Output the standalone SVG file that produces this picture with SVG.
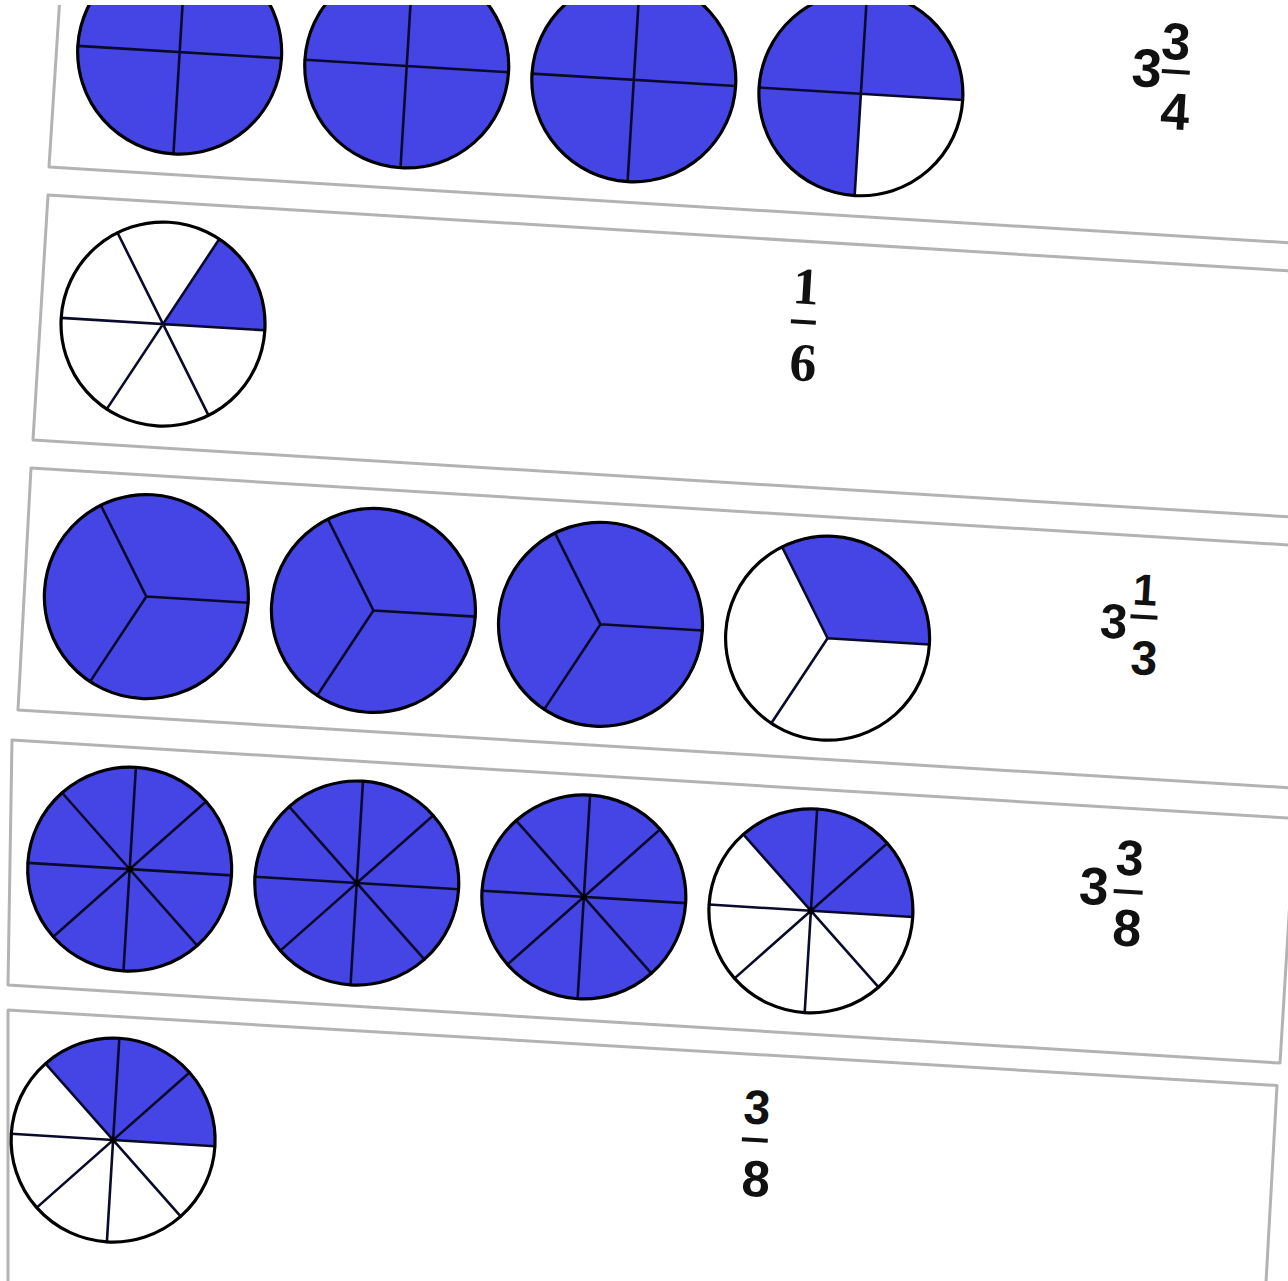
<svg xmlns="http://www.w3.org/2000/svg" xmlns:xlink="http://www.w3.org/1999/xlink" width="1288" height="1281" viewBox="0 0 1288 1281">
<style>
.strip{fill:#fff;stroke:#b3b3b3;stroke-width:3;stroke-linejoin:round}
.blue{fill:#4545e6}
.white{fill:#fff}
.rim{fill:none;stroke:#000;stroke-width:3.2}
.div{fill:none;stroke:#0a0a2a;stroke-width:2.6;stroke-linecap:round}
.sans{font-family:"Liberation Sans","DejaVu Sans",Arial,sans-serif;font-weight:bold;fill:#111;text-anchor:middle}
.serif{font-family:"Liberation Serif","DejaVu Serif",serif;font-weight:bold;fill:#111;text-anchor:middle}
.bar{stroke:#111;stroke-width:4;stroke-linecap:butt}
</style>
<defs>
<path id="q4" class="div" d="M-102,0H102M0,-102V102"/>
<path id="q6" class="div" d="M-102,0H102M51,88.33L-51,-88.33M-51,88.33L51,-88.33"/>
<path id="q3" class="div" d="M0,0L102,0M0,0L-51,88.33M0,0L-51,-88.33"/>
<g id="q8">
<path class="div" d="M-102,0H102M0,-102V102M72.12,72.12L-72.12,-72.12M-72.12,72.12L72.12,-72.12"/>
<circle r="3.2" fill="#000"/>
</g>
<circle id="rimc" class="rim" r="102"/>
</defs>
<rect width="1288" height="1281" fill="#fff"/>
<g id="strips">
<polygon id="strip1" class="strip" points="61,-20 1300,-20 1300,243.4 49,167"/>
<polygon id="strip2" class="strip" points="48,195 1300,271.5 1300,517.5 33,440"/>
<polygon id="strip3" class="strip" points="31,468 1300,545.7 1300,788.4 18,710"/>
<polygon id="strip4" class="strip" points="12,740 1295,818.5 1280,1063 8,985"/>
<polygon id="strip5" class="strip" points="8,1010 1277,1085.5 1265,1300 8,1300"/>
</g>
<g id="content" transform="rotate(3.5)">
<!-- Row 1: quarters -->
<g id="r1c1" transform="translate(182.5,41)"><circle class="blue" r="102"/><use href="#q4"/><use href="#rimc"/></g>
<g id="r1c2" transform="translate(410,41)"><circle class="blue" r="102"/><use href="#q4"/><use href="#rimc"/></g>
<g id="r1c3" transform="translate(637.5,41)"><circle class="blue" r="102"/><use href="#q4"/><use href="#rimc"/></g>
<g id="r1c4" transform="translate(865,41)"><circle class="white" r="102"/><path class="blue" d="M0,0L0,102A102,102 0 1 1 102,0Z"/><use href="#q4"/><use href="#rimc"/></g>
<g id="r1label">
<text class="sans" x="1149" y="16.5" font-size="54">3</text>
<text class="sans" x="1176.3" y="-12.4" font-size="52">3</text>
<line class="bar" x1="1164" y1="0" x2="1192" y2="0"/>
<text class="sans" x="1179.6" y="57.6" font-size="52">4</text>
</g>
<!-- Row 2: sixths -->
<g id="r2c1" transform="translate(182.5,313.5)"><circle class="white" r="102"/><path class="blue" d="M0,0L51,-88.33A102,102 0 0 1 102,0Z"/><use href="#q6"/><use href="#rimc"/></g>
<g id="r2label">
<text class="serif" x="822" y="254" font-size="52">1</text>
<line class="bar" x1="809" y1="272.4" x2="834" y2="272.4"/>
<text class="serif" x="823.6" y="331" font-size="54">6</text>
</g>
<!-- Row 3: thirds -->
<g id="r3c1" transform="translate(182.5,586.5)"><circle class="blue" r="102"/><use href="#q3"/><use href="#rimc"/></g>
<g id="r3c2" transform="translate(410,586.5)"><circle class="blue" r="102"/><use href="#q3"/><use href="#rimc"/></g>
<g id="r3c3" transform="translate(637.5,586.5)"><circle class="blue" r="102"/><use href="#q3"/><use href="#rimc"/></g>
<g id="r3c4" transform="translate(865,586.5)"><circle class="white" r="102"/><path class="blue" d="M0,0L-51,-88.33A102,102 0 0 1 102,0Z"/><use href="#q3"/><use href="#rimc"/></g>
<g id="r3label">
<text class="sans" x="1149.8" y="569" font-size="49">3</text>
<text class="sans" x="1178.9" y="534" font-size="44">1</text>
<line class="bar" x1="1166" y1="546" x2="1193" y2="546"/>
<text class="sans" x="1182.1" y="603.5" font-size="48">3</text>
</g>
<!-- Row 4: eighths -->
<g id="r4c1" transform="translate(182.5,859.6)"><circle class="blue" r="102"/><use href="#q8"/><use href="#rimc"/></g>
<g id="r4c2" transform="translate(410,859.6)"><circle class="blue" r="102"/><use href="#q8"/><use href="#rimc"/></g>
<g id="r4c3" transform="translate(637.5,859.6)"><circle class="blue" r="102"/><use href="#q8"/><use href="#rimc"/></g>
<g id="r4c4" transform="translate(865,859.6)"><circle class="white" r="102"/><path class="blue" d="M0,0L-72.12,-72.12A102,102 0 0 1 102,0Z"/><use href="#q8"/><use href="#rimc"/></g>
<g id="r4label">
<text class="sans" x="1146.1" y="836" font-size="53">3</text>
<text class="sans" x="1180.2" y="804.5" font-size="50">3</text>
<line class="bar" x1="1166" y1="821.4" x2="1195" y2="821.4"/>
<text class="sans" x="1181.6" y="875.5" font-size="52">8</text>
</g>
<!-- Row 5: eighths -->
<g id="r5c1" transform="translate(182.5,1131)"><circle class="white" r="102"/><path class="blue" d="M0,0L-72.12,-72.12A102,102 0 0 1 102,0Z"/><use href="#q8"/><use href="#rimc"/></g>
<g id="r5label">
<text class="sans" x="823.2" y="1075.5" font-size="48">3</text>
<line class="bar" x1="810" y1="1091.8" x2="836" y2="1091.8"/>
<text class="sans" x="826.6" y="1148" font-size="51">8</text>
</g>
</g>
<rect x="0" y="0" width="1288" height="5" fill="#fff"/>
</svg>
